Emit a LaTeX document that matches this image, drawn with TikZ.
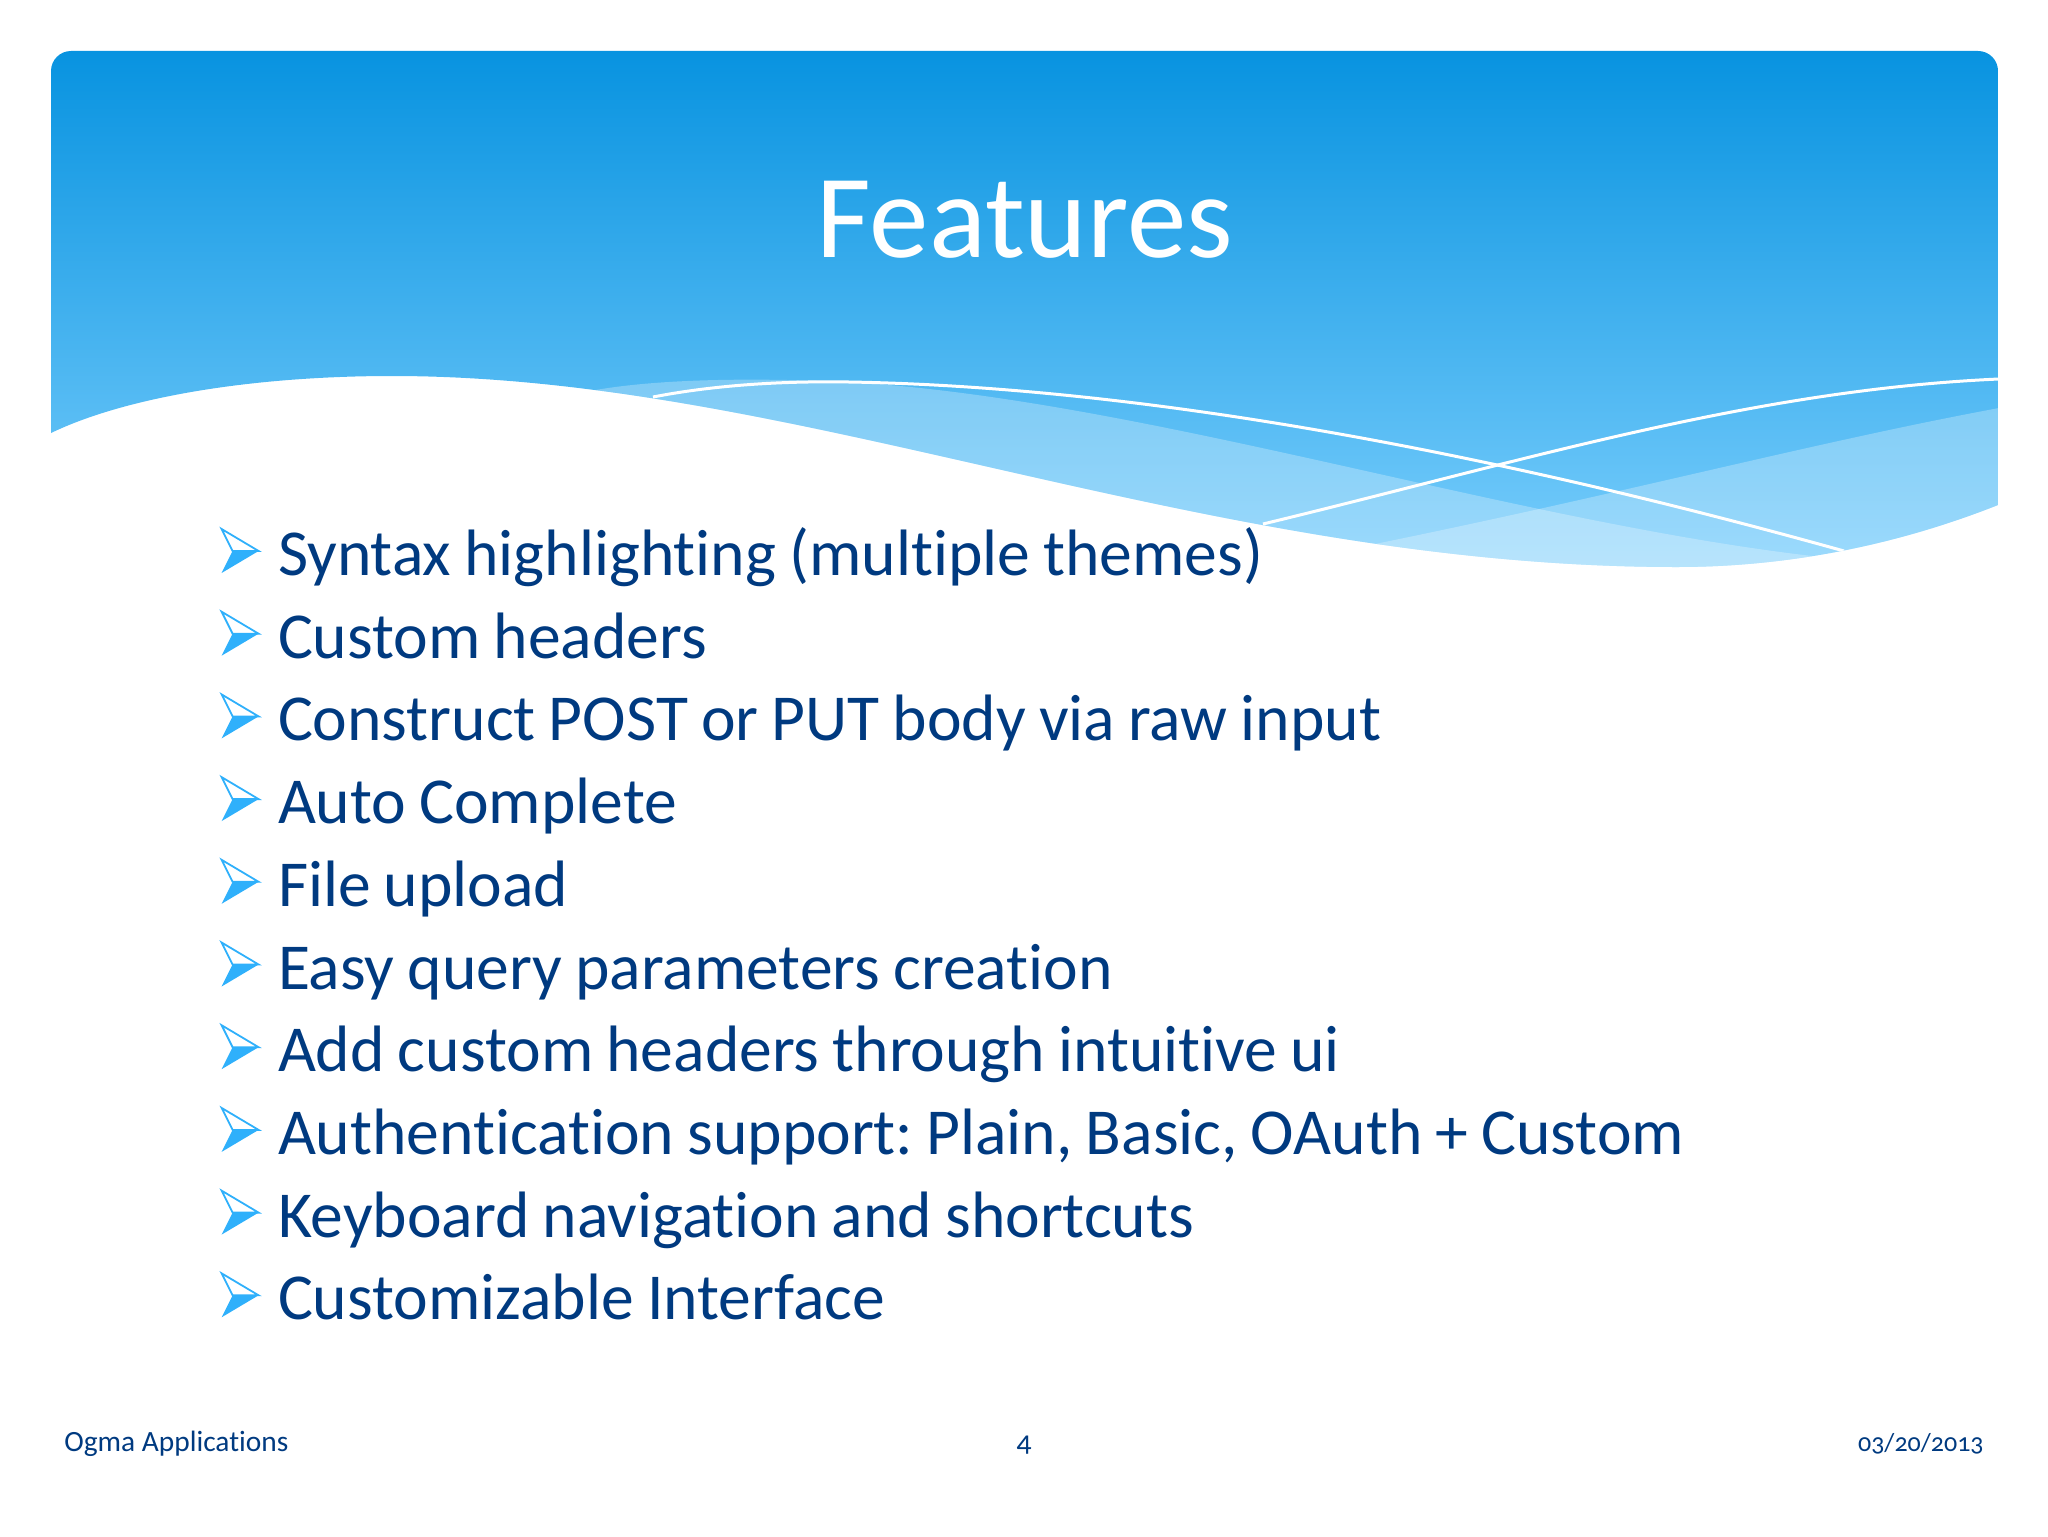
\documentclass[tikz,border=0pt]{standalone}
\usepackage{fontspec}
\setmainfont[Ligatures=NoCommon]{Carlito}
\frenchspacing
\usepackage{tikz}
\definecolor{deepblue}{HTML}{003A80}
\definecolor{markblue}{HTML}{2FB0FB}
\definecolor{headtop}{HTML}{0893E0}
\definecolor{headbottom}{HTML}{78CDFC}
\tikzstyle{feature} = [rectangle, inner sep=0pt, text width=750pt, text height=24pt, text depth=8pt, text=deepblue, font=\fontsize{32.8}{36}\selectfont, execute at begin node={\spaceskip=0.2em\relax}]
\tikzstyle{footer} = [inner sep=0pt, anchor=base, text=deepblue, font=\fontsize{14.7}{16}\selectfont]
\tikzstyle{swoosh} = [white, line width=1.5pt]
\def\wavepath{(51,433) .. controls (130,395) and (260,376) .. (392,376) .. controls (800,376) and (1200,567) .. (1677,567) .. controls (1800,567) and (1910,540) .. (1998,505)}

\begin{document}
\begin{tikzpicture}[x=0.5pt, y=-0.5pt, node distance=41.35pt]
\useasboundingbox (0,0) rectangle (2048,1536);

% header with the wave along its lower side
\shade [top color=headtop, bottom color=headbottom] \wavepath [rounded corners=10pt] -- (1998,51) -- (51,51) [sharp corners] -- cycle;
\begin{scope}
\clip \wavepath -- (1998,51) -- (51,51) -- cycle;
\fill [white, opacity=0.27] (590,391) .. controls (660,378) and (760,378) .. (849,382) .. controls (1150,400) and (1520,525) .. (1830,558) -- (1830,800) -- (590,800) -- cycle;
\fill [white, opacity=0.27] (1999,408) .. controls (1800,445) and (1600,500) .. (1320,555) -- (1320,800) -- (1999,800) -- cycle;
\draw [swoosh] (653,397) .. controls (720,384) and (790,381) .. (849,382) .. controls (1150,387) and (1500,455) .. (1844,551);
\draw [swoosh] (1263,524) .. controls (1520,462) and (1750,390) .. (1999,379);
\end{scope}

\node (title) [inner sep=0pt, anchor=base, text=white, font=\fontsize{59.5}{66}\selectfont] at (1025,257) {Features};

\node (0) [feature] at (1028,559.5) {Syntax highlighting (multiple themes)};
\node (1) [feature, below of=0] {Custom headers};
\node (2) [feature, below of=1] {Construct POST or PUT body via raw input};
\node (3) [feature, below of=2] {Auto Complete};
\node (4) [feature, below of=3] {File upload};
\node (5) [feature, below of=4] {Easy query parameters creation};
\node (6) [feature, below of=5] {Add custom headers through intuitive ui};
\node (7) [feature, below of=6] {Authentication support: Plain, Basic, OAuth + Custom};
\node (8) [feature, below of=7] {Keyboard navigation and shortcuts};
\node (9) [feature, below of=8] {Customizable Interface};

\foreach \i in {0,...,9} {
  \fill [markblue, shift={(\i.west)}] (-56,13.5) -- (-45,-8.5) -- (-19,-8.5) -- cycle;
  \draw [markblue, line width=0.9pt, line join=miter, shift={(\i.west)}] (-45,-8.5) -- (-56,-30.5) -- (-19,-8.5) -- cycle;
}

\node (company) [footer, anchor=base west] at (64,1451) {Ogma Applications};
\node (page) [footer] at (1024,1451) {\addfontfeatures{Numbers=OldStyle}4};
\node (date) [footer, anchor=base east, font=\fontsize{13}{16}\selectfont] at (1984,1451) {\addfontfeatures{Numbers=OldStyle}03/20/2013};

\end{tikzpicture}
\end{document}
